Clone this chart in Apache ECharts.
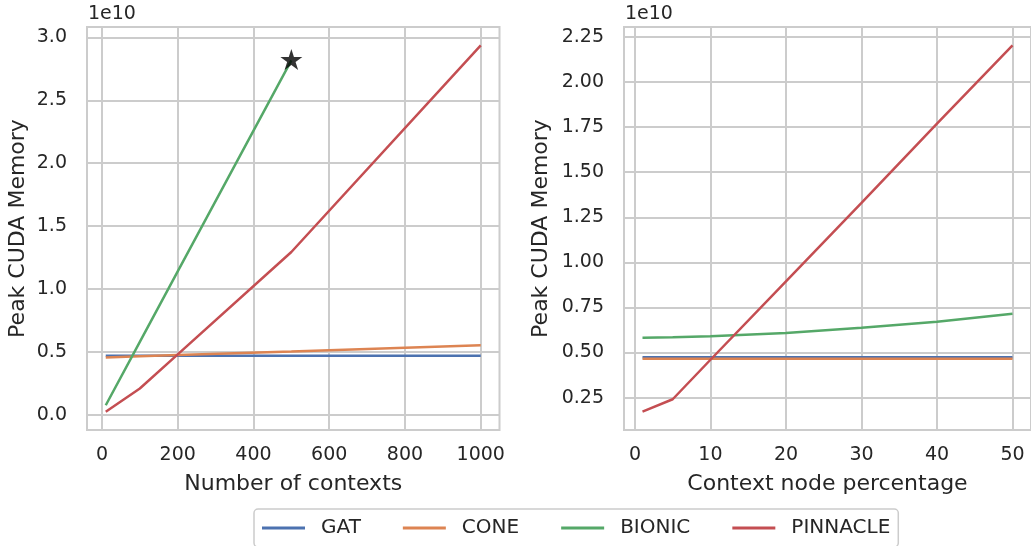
<!DOCTYPE html>
<html>
<head>
<meta charset="utf-8">
<script src="https://cdn.jsdelivr.net/npm/echarts@6/dist/echarts.min.js"></script>
<style>
  html, body { margin: 0; padding: 0; background: #fff; }
  #chart { width: 1031px; height: 546px; }
</style>
</head>
<body>
<div id="chart"></div>
<script>
// ---- data (values in units of 1e10) ----
const seriesNames = ['GAT', 'CONE', 'BIONIC', 'PINNACLE'];
const seriesColors = ['#4c72b0', '#dd8452', '#55a868', '#c44e52'];

// Left panel: Number of contexts
const leftX = [10, 100, 200, 500, 1000];
const leftGAT = [0.470, 0.470, 0.470, 0.470, 0.470];
const leftCONE = [0.456, 0.465, 0.475, 0.503, 0.553];
const leftBionicX = [10, 100, 200, 500];
const leftBIONIC = [0.076, 0.580, 1.140, 2.817];
const leftPINNACLE = [0.025, 0.209, 0.480, 1.294, 2.937];
const starPoint = [500, 2.817];
const leftXTicks = [0, 200, 400, 600, 800, 1000];
const leftYTicks = [0.0, 0.5, 1.0, 1.5, 2.0, 2.5, 3.0];

// Right panel: Context node percentage
const rightX = [1, 5, 10, 20, 30, 40, 50];
const rightGAT = [0.474, 0.474, 0.474, 0.474, 0.474, 0.474, 0.474];
const rightCONE = [0.465, 0.465, 0.465, 0.465, 0.465, 0.465, 0.465];
const rightBIONIC = [0.582, 0.585, 0.591, 0.608, 0.637, 0.671, 0.715];
const rightPINNACLE = [0.172, 0.241, 0.460, 0.895, 1.330, 1.770, 2.204];
const rightXTicks = [0, 10, 20, 30, 40, 50];
const rightYTicks = [0.25, 0.50, 0.75, 1.00, 1.25, 1.50, 1.75, 2.00, 2.25];

// ---- helpers ----
const FONT = 'DejaVu Sans';
const TXT = '#262626';
const GRIDC = '#cccccc';

function zip(xs, ys) { return xs.map((x, i) => [x, ys[i]]); }
function padRange(arr) { // matplotlib default 5% margins
  const mn = Math.min(...arr), mx = Math.max(...arr);
  const m = (mx - mn) * 0.05;
  return [mn - m, mx + m];
}

const lxR = padRange(leftX);
const lyR = padRange([].concat(leftGAT, leftCONE, leftBIONIC, leftPINNACLE));
const rxR = padRange(rightX);
const ryR = padRange([].concat(rightGAT, rightCONE, rightBIONIC, rightPINNACLE));

function xAxisCfg(gridIndex, range, ticks, name, fmt) {
  return {
    type: 'value', gridIndex, min: range[0], max: range[1],
    name, nameLocation: 'middle', nameGap: 43,
    nameTextStyle: { fontFamily: FONT, fontSize: 22, color: TXT },
    axisLine: { show: false },
    axisTick: { show: false, customValues: ticks },
    axisLabel: { customValues: ticks, fontFamily: FONT, fontSize: 19, color: TXT, margin: 16, formatter: fmt },
    splitLine: { show: true, lineStyle: { color: GRIDC, width: 2 } }
  };
}
function yAxisCfg(gridIndex, range, ticks, nameGap, fmt) {
  return {
    type: 'value', gridIndex, min: range[0], max: range[1],
    name: 'Peak CUDA Memory', nameLocation: 'middle', nameGap,
    nameTextStyle: { fontFamily: FONT, fontSize: 22, color: TXT },
    axisLine: { show: false },
    axisTick: { show: false, customValues: ticks },
    axisLabel: { customValues: ticks, fontFamily: FONT, fontSize: 19, color: TXT, margin: 20, formatter: fmt },
    splitLine: { show: true, lineStyle: { color: GRIDC, width: 2 } }
  };
}
function lineSeries(i, xi, data) {
  return {
    name: seriesNames[i], type: 'line', xAxisIndex: xi, yAxisIndex: xi,
    data, symbol: 'none', smooth: false,
    lineStyle: { color: seriesColors[i], width: 2.5 },
    itemStyle: { color: seriesColors[i] },
    z: 3 + i
  };
}

const option = {
  backgroundColor: '#ffffff',
  animation: false,
  grid: [
    { left: 87, top: 27, width: 412.5, height: 403, show: true, borderColor: GRIDC, borderWidth: 2, backgroundColor: 'transparent' },
    { left: 624, top: 27, width: 412.7, height: 403, show: true, borderColor: GRIDC, borderWidth: 2, backgroundColor: 'transparent' }
  ],
  xAxis: [
    xAxisCfg(0, lxR, leftXTicks, 'Number of contexts', v => String(Math.round(v))),
    xAxisCfg(1, rxR, rightXTicks, 'Context node percentage', v => String(Math.round(v)))
  ],
  yAxis: [
    yAxisCfg(0, lyR, leftYTicks, 58, v => v.toFixed(1)),
    yAxisCfg(1, ryR, rightYTicks, 72, v => v.toFixed(2))
  ],
  legend: {
    data: seriesNames,
    left: 254, top: 509,
    icon: 'rect', itemWidth: 43, itemHeight: 3, itemGap: 42,
    padding: [9, 8, 9, 8],
    borderColor: GRIDC, borderWidth: 1.5, borderRadius: 4,
    textStyle: { fontFamily: FONT, fontSize: 20, color: TXT, padding: [0, 0, 0, 11] }
  },
  graphic: [
    { type: 'text', left: 88, top: 5, style: { text: '1e10', font: '19px "DejaVu Sans"', fill: TXT } },
    { type: 'text', left: 625, top: 5, style: { text: '1e10', font: '19px "DejaVu Sans"', fill: TXT } }
  ],
  series: [
    lineSeries(0, 0, zip(leftX, leftGAT)),
    lineSeries(1, 0, zip(leftX, leftCONE)),
    lineSeries(2, 0, zip(leftBionicX, leftBIONIC)),
    lineSeries(3, 0, zip(leftX, leftPINNACLE)),
    lineSeries(0, 1, zip(rightX, rightGAT)),
    lineSeries(1, 1, zip(rightX, rightCONE)),
    lineSeries(2, 1, zip(rightX, rightBIONIC)),
    lineSeries(3, 1, zip(rightX, rightPINNACLE)),
    {
      name: 'star', type: 'scatter', xAxisIndex: 0, yAxisIndex: 0,
      data: [starPoint],
      symbol: 'path://M50,0 L61.2,34.5 L97.6,34.5 L68.2,55.9 L79.4,90.5 L50,69.1 L20.6,90.5 L31.8,55.9 L2.4,34.5 L38.8,34.5 Z',
      symbolSize: [22, 21], symbolOffset: [0, -1],
      itemStyle: { color: '#000000' }, z: 10
    }
  ]
};

const chart = echarts.init(document.getElementById('chart'), null, { renderer: 'canvas' });
chart.setOption(option);
</script>
</body>
</html>
